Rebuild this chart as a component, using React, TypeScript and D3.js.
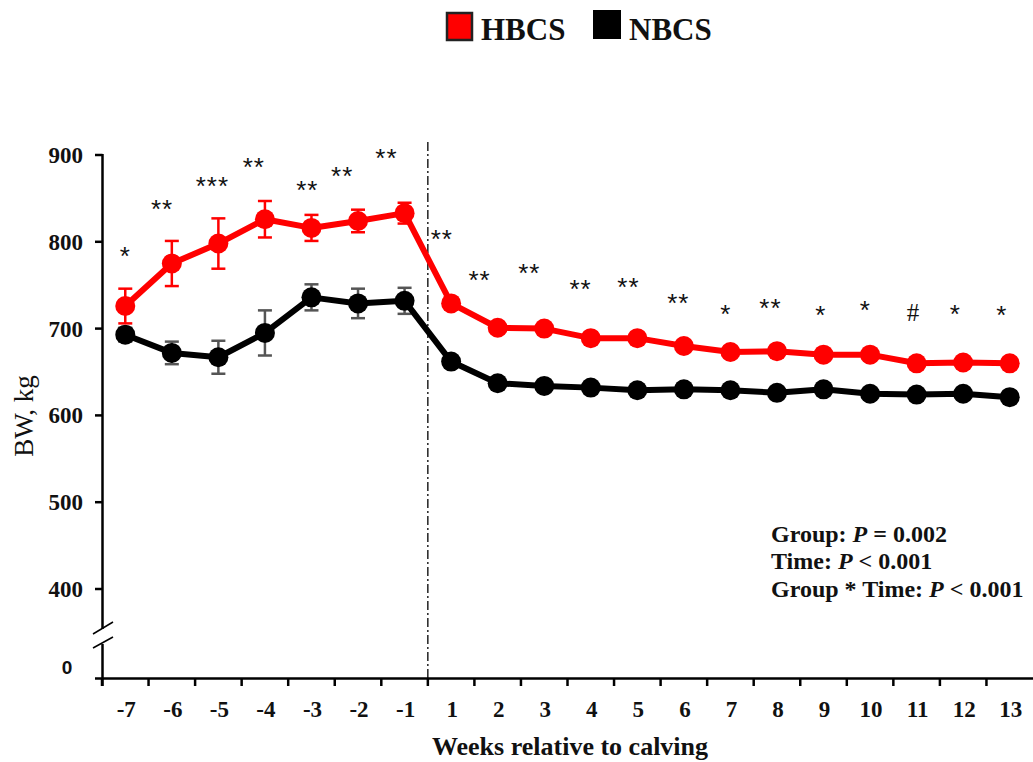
import React from "react";
import * as d3 from "d3";

const weeks = ["-7", "-6", "-5", "-4", "-3", "-2", "-1", "1", "2", "3", "4", "5", "6", "7", "8", "9", "10", "11", "12", "13"];
const hbcs = [726, 775, 798, 826, 816, 824, 833, 729, 701, 700, 689, 689, 680, 673, 674, 670, 670, 660, 661, 660];
const hbcsErr = [20, 26, 29, 21, 15, 13, 12, 3, 3, 3, 3, 3, 3, 3, 3, 3, 3, 3, 3, 3];
const nbcs = [693, 672, 667, 695, 736, 729, 732, 662, 637, 634, 632, 629, 630, 629, 626, 630, 625, 624, 625, 621];
const nbcsErr = [8, 13, 19, 26, 15, 17, 15, 3, 3, 3, 3, 3, 3, 3, 3, 3, 3, 3, 3, 3];
const sigLabels = ["*", "**", "***", "**", "**", "**", "**", "**", "**", "**", "**", "**", "**", "*", "**", "*", "*", "#", "*", "*"];
const sigValues = [791, 845, 871, 893, 867, 883, 903, 810, 763, 771, 753, 755, 736, 724, 731, 723, 728, 719, 724, 723];
const sigShift = [0, -0.21, -0.13, -0.24, -0.09, -0.34, -0.39, -0.2, -0.39, -0.32, -0.22, -0.19, -0.12, -0.1, -0.14, -0.06, -0.1, -0.08, -0.17, -0.17];
const yTicks = [400, 500, 600, 700, 800, 900];

const W = 1033;
const H = 762;
const axisX = 102.5;
const axisY = 678.5;
const serif = "'Liberation Serif', 'Times New Roman', serif";
const sans = "'Liberation Sans', Arial, sans-serif";

export default function App() {
  const x = d3.scaleBand<string>().domain(weeks).range([102, 1033]).padding(0);
  const bw = x.bandwidth();
  const cx = (w: string) => (x(w) as number) + bw / 2;
  const y = d3.scaleLinear().domain([400, 900]).range([589, 155]);

  const line = d3
    .line<number>()
    .x((_, i) => cx(weeks[i]))
    .y((d) => y(d));

  const series = [
    { name: "NBCS", vals: nbcs, err: nbcsErr, color: "#000", errColor: "#555" },
    { name: "HBCS", vals: hbcs, err: hbcsErr, color: "#ff0000", errColor: "#ff0000" },
  ];

  const calvingX = x("1") as number;

  return (
    <div style={{ position: "absolute", left: 0, top: 0 }}>
      <svg width={W} height={H} style={{ display: "block", background: "#fff" }}>
        {/* Legend */}
        <g>
          <rect x={447} y={13} width={25} height={27} fill="#ff0000" stroke="#222" strokeWidth={2.5} />
          <text x={481} y={40} fontFamily={serif} fontWeight="bold" fontSize={31} fill="#111">HBCS</text>
          <rect x={593} y={10} width={28} height={29} fill="#000" />
          <text x={629} y={40} fontFamily={serif} fontWeight="bold" fontSize={31} fill="#111">NBCS</text>
        </g>

        {/* Y axis */}
        <line x1={axisX} x2={axisX} y1={154} y2={629} stroke="#000" strokeWidth={2.5} />
        <line x1={axisX} x2={axisX} y1={644} y2={686} stroke="#000" strokeWidth={2.5} />
        <line x1={93} x2={113} y1={634} y2={622} stroke="#000" strokeWidth={1.5} />
        <line x1={93} x2={113} y1={648} y2={637} stroke="#000" strokeWidth={1.5} />
        {yTicks.map((t) => (
          <g key={t}>
            <line x1={95} x2={axisX} y1={y(t)} y2={y(t)} stroke="#000" strokeWidth={2.5} />
            <text x={83} y={y(t) + 8} textAnchor="end" fontFamily={serif} fontWeight="bold" fontSize={23} fill="#111">
              {t}
            </text>
          </g>
        ))}
        <text x={67} y={674} textAnchor="middle" fontFamily={sans} fontWeight="bold" fontSize={19} fill="#111">0</text>
        <text
          transform={`translate(33, 416) rotate(-90)`}
          textAnchor="middle"
          fontFamily={serif}
          fontSize={27}
          fill="#111"
        >
          BW, kg
        </text>

        {/* X axis */}
        <line x1={95} x2={1033} y1={axisY} y2={axisY} stroke="#000" strokeWidth={2.5} />
        {weeks.map((w) => (
          <line key={"t" + w} x1={x(w) as number} x2={x(w) as number} y1={axisY} y2={686} stroke="#000" strokeWidth={2.5} />
        ))}
        {weeks.map((w) => (
          <text key={"l" + w} x={cx(w) + 1} y={717} textAnchor="middle" fontFamily={serif} fontWeight="bold" fontSize={23} fill="#111">
            {w}
          </text>
        ))}
        <text x={570} y={755} textAnchor="middle" fontFamily={serif} fontWeight="bold" fontSize={26} fill="#111">
          Weeks relative to calving
        </text>

        {/* calving line */}
        <line x1={calvingX} x2={calvingX} y1={142} y2={axisY} stroke="#000" strokeWidth={1.3} strokeDasharray="9,3,2,3" />

        {/* Series */}
        {series.map((s) => (
          <g key={s.name}>
            {s.vals.map((v, i) => {
              const px = cx(weeks[i]);
              return (
                <g key={i} stroke={s.errColor} strokeWidth={2.5}>
                  <line x1={px} x2={px} y1={y(v + s.err[i])} y2={y(v - s.err[i])} />
                  <line x1={px - 7} x2={px + 7} y1={y(v + s.err[i])} y2={y(v + s.err[i])} />
                  <line x1={px - 7} x2={px + 7} y1={y(v - s.err[i])} y2={y(v - s.err[i])} />
                </g>
              );
            })}
            <path d={line(s.vals) || ""} fill="none" stroke={s.color} strokeWidth={6} strokeLinejoin="round" />
            {s.vals.map((v, i) => (
              <circle key={"c" + i} cx={cx(weeks[i])} cy={y(v)} r={10} fill={s.color} />
            ))}
          </g>
        ))}

        {/* significance marks */}
        {sigLabels.map((lab, i) => {
          const px = cx(weeks[i]) + sigShift[i] * bw;
          const isHash = lab === "#";
          return (
            <text
              key={"s" + i}
              x={px}
              y={y(sigValues[i]) + (isHash ? 9 : 15)}
              textAnchor="middle"
              fontFamily={isHash ? serif : sans}
              fontSize={isHash ? 25 : 26}
              letterSpacing={isHash ? 0 : 1}
              fill="#111"
            >
              {lab}
            </text>
          );
        })}

        {/* stats */}
        <g fontFamily={serif} fontWeight="bold" fontSize={24} fill="#111">
          <text x={771} y={542}>
            Group: <tspan fontStyle="italic">P</tspan> = 0.002
          </text>
          <text x={771} y={569}>
            Time: <tspan fontStyle="italic">P</tspan> {"<"} 0.001
          </text>
          <text x={771} y={597}>
            Group * Time: <tspan fontStyle="italic">P</tspan> {"<"} 0.001
          </text>
        </g>
      </svg>
    </div>
  );
}
